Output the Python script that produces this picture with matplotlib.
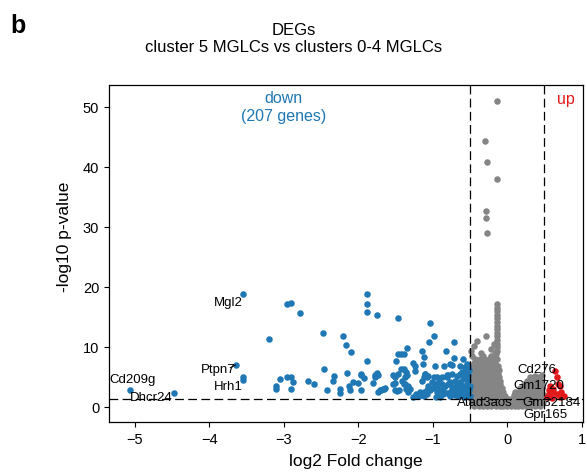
import numpy as np
import matplotlib
matplotlib.use("Agg")
import matplotlib.pyplot as plt

plt.rcParams["font.family"] = ["Liberation Sans", "DejaVu Sans"]

# significant down-regulated genes (log2FC, -log10 p)
blue_pts = [
    (-5.07, 2.8), (-4.47, 2.2), (-3.55, 18.8), (-3.65, 6.95), (-3.55, 5.0), (-3.55, 4.5),
    (-3.20, 11.3), (-2.96, 17.1), (-2.90, 17.3), (-2.78, 15.6), (-1.88, 18.8), (-1.88, 17.1),
    (-1.88, 15.7), (-2.47, 12.2), (-2.21, 11.8), (-2.17, 10.3), (-2.10, 9.1), (-1.88, 7.6),
    (-2.46, 6.2), (-2.15, 5.6), (-1.96, 5.2), (-1.92, 4.8), (-3.05, 4.6), (-2.96, 5.0),
    (-2.90, 5.0), (-2.88, 4.1), (-3.10, 3.5), (-3.10, 2.9), (-2.90, 2.95), (-2.67, 4.2),
    (-2.60, 3.7), (-2.42, 2.8), (-2.33, 5.1), (-2.34, 4.2), (-2.25, 2.95), (-2.24, 2.3),
    (-2.13, 3.4), (-2.11, 2.8), (-2.07, 4.1), (-2.01, 4.0), (-1.96, 2.8),
    (-1.75, 15.2), (-1.46, 14.8), (-1.03, 13.9), (-0.98, 11.7), (-1.05, 10.7), (-1.35, 9.8),
    (-1.14, 9.3), (-0.82, 9.2), (-0.71, 10.7), (-1.47, 8.7), (-1.43, 8.7), (-1.39, 8.7),
    (-1.12, 8.2), (-0.71, 8.1), (-1.49, 7.6), (-1.26, 7.2), (-1.24, 6.7), (-0.97, 6.8),
    (-0.85, 6.7), (-0.74, 7.0), (-1.39, 6.3), (-1.36, 5.7), (-1.97, 5.45), (-1.75, 5.6),
    (-1.73, 5.2), (-1.54, 5.2), (-1.47, 5.4), (-1.10, 5.45), (-1.08, 5.0), (-0.94, 5.0),
    (-0.81, 5.3), (-1.80, 4.0), (-1.78, 4.9), (-1.73, 2.4), (-1.70, 2.7), (-1.67, 2.95),
    (-1.64, 3.1), (-1.51, 3.95), (-1.51, 5.0), (-1.48, 2.55), (-1.45, 2.7), (-1.41, 4.3),
    (-1.37, 3.8), (-1.36, 2.95), (-1.33, 2.4), (-1.30, 2.95), (-1.23, 2.1), (-1.17, 2.4),
    (-1.12, 2.4), (-1.08, 2.7), (-1.14, 4.3), (-1.11, 5.45), (-1.01, 4.05), (-0.98, 4.9),
    (-0.94, 3.5), (-0.90, 2.7), (-0.86, 2.1), (-0.81, 4.9), (-0.77, 4.05), (-0.74, 3.2),
    (-0.72, 2.4), (-0.70, 4.3), (-0.68, 3.5), (-0.65, 2.7), (-0.63, 1.8), (-0.61, 5.7),
    (-0.59, 4.6), (-0.56, 3.5), (-0.54, 2.4), (-0.52, 6.8), (-0.52, 1.8), (-1.26, 1.55),
    (-1.21, 1.8), (-0.90, 1.6), (-0.95, 1.55), (-1.13, 7.1), (-0.77, 7.1), (-0.59, 7.95),
    (-0.63, 6.8), (-1.42, 6.3), (-1.24, 6.0), (-1.77, 5.3), (-1.37, 4.9), (-1.34, 5.3),
    (-1.12, 4.9), (-1.06, 5.05), (-0.88, 4.9), (-0.80, 5.3), (-0.74, 5.45), (-0.68, 5.05),
    (-0.63, 5.45), (-0.56, 4.9), (-0.52, 5.2), (-1.66, 2.95), (-1.71, 2.7), (-1.53, 3.8),
    (-1.51, 2.7), (-1.39, 3.8), (-1.33, 3.4), (-1.19, 1.8), (-1.12, 1.8), (-1.08, 2.1),
    (-1.03, 2.7), (-0.99, 3.1), (-0.94, 2.4), (-0.86, 2.95), (-0.81, 2.3), (-0.77, 1.8),
    (-0.72, 3.2), (-0.68, 2.7), (-0.63, 2.1), (-0.59, 3.1), (-0.50, 1.8), (-1.06, 3.5),
    (-0.97, 3.8), (-0.79, 3.8), (-0.63, 4.05), (-0.54, 3.8), (-0.50, 3.5), (-0.56, 6.55),
    (-0.54, 7.1), (-0.58, 2.0), (-0.60, 2.6), (-0.62, 3.6), (-0.66, 4.0), (-0.57, 5.5),
    (-0.53, 4.4), (-0.55, 3.0), (-0.51, 2.8), (-0.58, 1.6), (-0.66, 1.7), (-0.70, 2.0),
    (-0.75, 2.6), (-0.83, 3.4), (-0.88, 3.8), (-0.92, 4.3), (-0.51, 6.1), (-0.55, 5.9),
]

# non-significant genes: outliers and the dense central cloud
grey_pts = [
    (-0.13, 50.95), (-0.30, 44.2), (-0.27, 40.7), (-0.13, 37.95), (-0.29, 32.6),
    (-0.29, 31.4), (-0.27, 28.9),
    (-0.14, 17.1), (-0.14, 16.5), (-0.14, 15.9), (-0.14, 15.3), (-0.14, 14.7), (-0.13, 14.1),
    (-0.14, 13.5), (-0.13, 12.9), (-0.14, 12.3), (-0.13, 11.7), (-0.14, 11.1), (-0.13, 10.5),
    (-0.14, 9.9), (-0.13, 9.3), (-0.15, 8.7),
    (-0.40, 11.0), (-0.29, 11.8), (-0.48, 9.3), (-0.45, 10.1), (-0.35, 9.0), (-0.22, 9.6),
    (-0.18, 10.4), (-0.16, 8.9), (-0.47, 8.5), (-0.33, 8.4), (-0.21, 8.5),
    (-0.43, 7.9), (-0.37, 7.9), (-0.31, 7.9), (-0.25, 7.9), (-0.19, 7.9), (-0.13, 7.9),
    (-0.45, 7.3), (-0.40, 7.3), (-0.34, 7.3), (-0.28, 7.3), (-0.22, 7.3), (-0.16, 7.3),
    (-0.47, 6.7), (-0.42, 6.7), (-0.37, 6.7), (-0.31, 6.7), (-0.25, 6.7), (-0.19, 6.7), (-0.12, 6.7),
    (-0.49, 6.1), (-0.44, 6.1), (-0.38, 6.1), (-0.33, 6.1), (-0.27, 6.1), (-0.21, 6.1), (-0.15, 6.1), (-0.11, 6.1),
    (-0.47, 5.5), (-0.42, 5.5), (-0.36, 5.5), (-0.30, 5.5), (-0.24, 5.5), (-0.18, 5.5), (-0.12, 5.5),
    (-0.49, 4.9), (-0.44, 4.9), (-0.38, 4.9), (-0.33, 4.9), (-0.27, 4.9), (-0.21, 4.9), (-0.15, 4.9),
    (-0.11, 4.9), (0.31, 4.9), (0.37, 5.1), (0.43, 4.9), (0.47, 5.2),
    (-0.47, 4.3), (-0.42, 4.3), (-0.36, 4.3), (-0.30, 4.3), (-0.24, 4.3), (-0.18, 4.3), (-0.12, 4.3),
    (-0.09, 4.3), (0.27, 4.3), (0.33, 4.3), (0.39, 4.3), (0.45, 4.3),
    (-0.49, 3.7), (-0.44, 3.7), (-0.38, 3.7), (-0.33, 3.7), (-0.27, 3.7), (-0.21, 3.7), (-0.15, 3.7),
    (-0.09, 3.7), (0.23, 3.7), (0.29, 3.7), (0.35, 3.7), (0.41, 3.7), (0.47, 3.7),
    (-0.47, 3.1), (-0.42, 3.1), (-0.36, 3.1), (-0.30, 3.1), (-0.24, 3.1), (-0.18, 3.1), (-0.12, 3.1),
    (-0.07, 3.1), (0.17, 3.1), (0.23, 3.1), (0.29, 3.1), (0.35, 3.1), (0.41, 3.1), (0.47, 3.1),
    (-0.49, 2.5), (-0.44, 2.5), (-0.38, 2.5), (-0.33, 2.5), (-0.27, 2.5), (-0.21, 2.5), (-0.15, 2.5),
    (-0.09, 2.5), (-0.05, 2.5), (0.11, 2.5), (0.16, 2.5), (0.21, 2.5), (0.27, 2.5), (0.33, 2.5),
    (0.39, 2.5), (0.45, 2.5),
    (-0.47, 1.9), (-0.42, 1.9), (-0.36, 1.9), (-0.30, 1.9), (-0.24, 1.9), (-0.18, 1.9), (-0.12, 1.9),
    (-0.07, 1.9), (-0.03, 1.7), (0.09, 1.9), (0.14, 1.9), (0.19, 1.9), (0.25, 1.9), (0.31, 1.9),
    (0.37, 1.9), (0.43, 1.9), (0.49, 1.9),
    (-0.49, 1.3), (-0.44, 1.3), (-0.38, 1.3), (-0.33, 1.3), (-0.27, 1.3), (-0.21, 1.3), (-0.15, 1.3),
    (-0.09, 1.3), (-0.04, 1.3), (0.01, 1.3), (0.05, 1.3), (0.10, 1.3), (0.15, 1.3), (0.21, 1.3),
    (0.27, 1.3), (0.33, 1.3), (0.39, 1.3), (0.45, 1.3),
    (-0.47, 0.7), (-0.42, 0.7), (-0.36, 0.7), (-0.30, 0.7), (-0.24, 0.7), (-0.18, 0.7), (-0.12, 0.7),
    (-0.07, 0.7), (-0.02, 0.7), (0.03, 0.7), (0.08, 0.7), (0.13, 0.7), (0.18, 0.7), (0.24, 0.7),
    (0.30, 0.7), (0.36, 0.7), (0.42, 0.7), (0.48, 0.7),
    (-0.44, 0.1), (-0.38, 0.1), (-0.33, 0.1), (-0.27, 0.1), (-0.21, 0.1), (-0.15, 0.1), (-0.10, 0.1),
    (-0.05, 0.1), (0.00, 0.1), (0.05, 0.1), (0.10, 0.1), (0.15, 0.1), (0.20, 0.1), (0.26, 0.1),
    (0.32, 0.1), (0.38, 0.1), (0.44, 0.1),
]

# significant up-regulated genes
red_pts = [
    (0.65, 6.0), (0.67, 4.9), (0.69, 3.8), (0.71, 3.5), (0.58, 3.5), (0.62, 2.95),
    (0.56, 2.7), (0.73, 2.4), (0.62, 2.4), (0.67, 2.1), (0.56, 2.1), (0.58, 1.8),
    (0.76, 1.8), (0.71, 1.55), (0.53, 1.6), (0.60, 1.5),
]

# gene labels: name, x, y
gene_labels = [
    ("Cd209g", -5.03, 4.6), ("Dhcr24", -4.78, 1.55), ("Mgl2", -3.75, 17.4),
    ("Ptpn7", -3.88, 6.2), ("Hrh1", -3.75, 3.4), ("Atad3aos", -0.30, 0.85),
    ("Cd276", 0.40, 6.2), ("Gm1720", 0.42, 3.6), ("Gm32184", 0.60, 0.85),
    ("Gpr165", 0.52, -1.2),
]

fc_cut = 0.5
p_cut = 1.3

fig = plt.figure(figsize=(5.87, 4.77), dpi=100)
ax = fig.add_axes([0.1857, 0.1126, 0.8075, 0.7071])

grey = np.array(grey_pts)
blue = np.array(blue_pts)
red = np.array(red_pts)
ax.scatter(grey[:, 0], grey[:, 1], s=22, color="#858585", linewidths=0, zorder=2)
ax.scatter(blue[:, 0], blue[:, 1], s=22, color="#1f77b4", linewidths=0, zorder=3)
ax.scatter(red[:, 0], red[:, 1], s=22, color="#e31a1c", linewidths=0, zorder=3)

ax.axvline(-fc_cut, color="black", lw=0.9, dashes=(7, 3.5), zorder=4)
ax.axvline(fc_cut, color="black", lw=0.9, dashes=(7, 3.5), zorder=4)
ax.axhline(p_cut, color="black", lw=0.9, dashes=(7, 3.5), zorder=4)

for name, x, y in gene_labels:
    ax.text(x, y, name, fontsize=9.5, ha="center", va="center", zorder=5)
# short connector for Ptpn7
ax.plot([-3.72, -3.65], [6.5, 6.95], color="black", lw=0.7, zorder=5)

ax.text(-3.0, 49.95, "down\n(207 genes)", color="#1f77b4", fontsize=11.5,
        ha="center", va="center", linespacing=1.25)
ax.text(0.79, 51.3, "up", color="#e31a1c", fontsize=11.5, ha="center", va="center")

ax.set_xlim(-5.35, 1.02)
ax.set_ylim(-2.6, 53.6)
ax.set_xticks([-5, -4, -3, -2, -1, 0, 1])
ax.set_yticks([0, 10, 20, 30, 40, 50])
ax.tick_params(labelsize=10.5, length=3.5, width=0.8)
for sp in ax.spines.values():
    sp.set_linewidth(0.9)

ax.set_xlabel("log2 Fold change", fontsize=12.5)
ax.set_ylabel("-log10 p-value", fontsize=12.5)
ax.xaxis.set_label_coords(0.521, -0.09)
ax.yaxis.set_label_coords(-0.078, 0.552)

fig.text(0.5, 0.918, "DEGs\ncluster 5 MGLCs vs clusters 0-4 MGLCs", fontsize=12,
         ha="center", va="center", linespacing=1.15)
fig.text(0.017, 0.945, "b", fontsize=18, fontweight="bold", ha="left", va="center")

fig.savefig("out.png", dpi=100)
